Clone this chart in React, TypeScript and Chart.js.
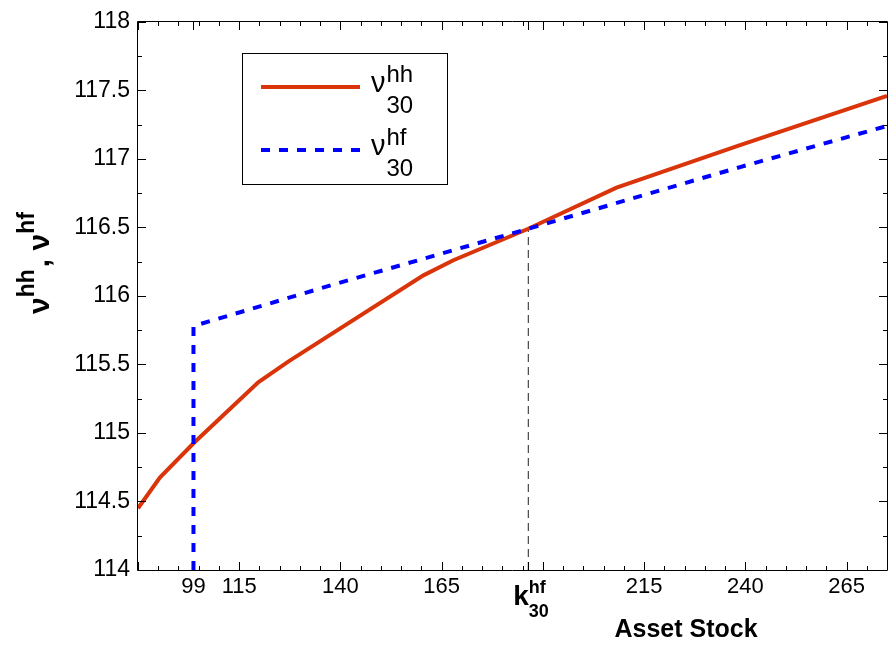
import React, { useEffect, useRef } from "react";
import { Chart, registerables } from "chart.js";

Chart.register(...registerables);

// ---- data ----
const hhX = [90, 95.4, 103.9, 119.7, 127.1, 160.5, 167.9, 186.4, 208.2, 238.7, 275];
const hhY = [114.45, 114.675, 114.93, 115.37, 115.52, 116.15, 116.26, 116.49, 116.79, 117.1, 117.46];

const hfX = [103.7, 103.7, 139.1, 186.4, 238.7, 275];
const hfY = [114, 115.78, 116.09, 116.49, 116.94, 117.24];

const kLineX = [186.4, 186.4];
const kLineY = [114, 116.49];

const xTickValues = [103.7, 115, 140, 165, 186.4, 215, 240, 265];
const xTickLabels = ["99", "115", "140", "165", "", "215", "240", "265"];
const K_TICK = 186.4;

const xMin = 90;
const xMax = 275;
const yMin = 114;
const yMax = 118;
const yStep = 0.5;

const FONT = "'Liberation Sans', Arial, Helvetica, sans-serif";
const RED = "rgb(218,52,10)";
const BLUE = "rgb(0,0,255)";

const toPts = (xs: number[], ys: number[]) => xs.map((x, i) => ({ x, y: ys[i] }));

const decorPlugin = {
  id: "decor",
  afterDraw(chart: any) {
    const ctx: CanvasRenderingContext2D = chart.ctx;
    const { left, right, top, bottom } = chart.chartArea;
    const xs = chart.scales.x;
    const ys = chart.scales.y;
    const L = Math.round(left);
    const R = Math.round(right);
    const T = Math.round(top);
    const B = Math.round(bottom);
    ctx.save();
    ctx.strokeStyle = "#000";
    ctx.lineWidth = 1;
    // box
    ctx.beginPath();
    ctx.moveTo(L - 0.5, T - 0.5);
    ctx.lineTo(R + 0.5, T - 0.5);
    ctx.lineTo(R + 0.5, B + 0.5);
    ctx.lineTo(L - 0.5, B + 0.5);
    ctx.closePath();
    ctx.stroke();
    // x ticks (inward, bottom & top)
    ctx.beginPath();
    const xTickAt = (v: number, len: number) => {
      const p = Math.round(xs.getPixelForValue(v)) + 0.5;
      ctx.moveTo(p, B);
      ctx.lineTo(p, B - len);
      ctx.moveTo(p, T);
      ctx.lineTo(p, T + len);
    };
    for (let v = xMin; v <= xMax + 1e-6; v += 5) {
      const major = Math.abs(((v - 115) % 25 + 25) % 25) < 1e-6;
      xTickAt(v, major ? 8 : 4);
    }
    xTickAt(xTickValues[0], 8);
    xTickAt(K_TICK, 8);
    // y ticks (inward, left & right)
    for (let v = yMin; v <= yMax + 1e-6; v += 0.25) {
      const major = Math.abs((v * 2) - Math.round(v * 2)) < 1e-6;
      const len = major ? 8 : 4;
      const p = Math.round(ys.getPixelForValue(v)) + 0.5;
      ctx.moveTo(L, p);
      ctx.lineTo(L + len, p);
      ctx.moveTo(R, p);
      ctx.lineTo(R - len, p);
    }
    ctx.stroke();

    // k_30^hf tick label
    ctx.fillStyle = "#000";
    ctx.textBaseline = "alphabetic";
    ctx.textAlign = "left";
    const kp = xs.getPixelForValue(K_TICK);
    ctx.font = `bold 28px ${FONT}`;
    const kx = kp - 15;
    ctx.fillText("k", kx, 605);
    const kw = ctx.measureText("k").width;
    ctx.font = `bold 18px ${FONT}`;
    ctx.fillText("hf", kx + kw, 593);
    ctx.fillText("30", kx + kw, 617);

    // x-axis title
    ctx.font = `bold 25px ${FONT}`;
    ctx.textAlign = "center";
    ctx.fillText("Asset Stock", 686, 637);

    // y-axis title (rotated)
    ctx.save();
    ctx.translate(49, 314);
    ctx.rotate(-Math.PI / 2);
    ctx.textAlign = "left";
    let cx = 0;
    ctx.font = `bold 30px ${FONT}`;
    ctx.fillText("\u03bd", cx, 0);
    cx += ctx.measureText("\u03bd").width;
    ctx.font = `bold 23px ${FONT}`;
    ctx.fillText("hh", cx, -15);
    cx += ctx.measureText("hh").width + 2;
    ctx.font = `bold 30px ${FONT}`;
    ctx.fillText(",", cx, 0);
    cx += ctx.measureText(", ").width;
    ctx.fillText("\u03bd", cx, 0);
    cx += ctx.measureText("\u03bd").width;
    ctx.font = `bold 23px ${FONT}`;
    ctx.fillText("hf", cx, -15);
    ctx.restore();

    // legend
    const bx = 242, by = 53, bw = 205, bh = 131;
    ctx.fillStyle = "#fff";
    ctx.fillRect(bx, by, bw, bh);
    ctx.strokeStyle = "#000";
    ctx.lineWidth = 1;
    ctx.strokeRect(bx + 0.5, by + 0.5, bw, bh);
    const entries = [
      { color: RED, dash: [] as number[], sup: "hh", y: 87 },
      { color: BLUE, dash: [9, 9], sup: "hf", y: 150 },
    ];
    for (const e of entries) {
      ctx.save();
      ctx.strokeStyle = e.color;
      ctx.lineWidth = 4;
      ctx.setLineDash(e.dash);
      ctx.beginPath();
      ctx.moveTo(261, e.y);
      ctx.lineTo(360, e.y);
      ctx.stroke();
      ctx.restore();
      ctx.fillStyle = "#000";
      ctx.textAlign = "left";
      ctx.font = `29px ${FONT}`;
      ctx.fillText("\u03bd", 371, e.y + 5);
      const nw = ctx.measureText("\u03bd").width;
      ctx.font = `24px ${FONT}`;
      ctx.fillText(e.sup, 371 + nw + 1, e.y - 5);
      ctx.fillText("30", 371 + nw + 1, e.y + 26);
    }
    ctx.restore();
  },
};

export default function App() {
  const canvasRef = useRef<HTMLCanvasElement | null>(null);

  useEffect(() => {
    if (!canvasRef.current) return;
    const chart = new Chart(canvasRef.current, {
      type: "line",
      data: {
        datasets: [
          {
            label: "hf",
            data: toPts(hfX, hfY),
            borderColor: BLUE,
            borderWidth: 4,
            borderDash: [9, 9],
            borderCapStyle: "butt",
            pointRadius: 0,
            tension: 0,
            fill: false,
            order: 0,
          },
          {
            label: "hh",
            data: toPts(hhX, hhY),
            borderColor: RED,
            borderWidth: 4,
            pointRadius: 0,
            tension: 0,
            fill: false,
            order: 1,
          },
          {
            label: "k",
            data: toPts(kLineX, kLineY),
            borderColor: "#222",
            borderWidth: 1,
            borderDash: [8, 5],
            pointRadius: 0,
            tension: 0,
            fill: false,
            order: 2,
          },
        ],
      },
      options: {
        animation: false,
        responsive: true,
        maintainAspectRatio: false,
        layout: { padding: { top: 13, right: 1, left: 0, bottom: 0 } },
        plugins: {
          legend: { display: false },
          tooltip: { enabled: false },
        },
        scales: {
          x: {
            type: "linear",
            min: xMin,
            max: xMax,
            grid: { display: false, drawTicks: false },
            border: { display: false },
            afterBuildTicks: (scale: any) => {
              scale.ticks = xTickValues.map((v) => ({ value: v }));
            },
            afterFit: (scale: any) => {
              scale.height = 78;
            },
            ticks: {
              autoSkip: false,
              maxRotation: 0,
              minRotation: 0,
              padding: 4,
              color: "#000",
              font: { family: FONT, size: 22 },
              callback: (value: any) => {
                const i = xTickValues.findIndex((v) => Math.abs(v - value) < 1e-6);
                return i >= 0 ? xTickLabels[i] : "";
              },
            },
          },
          y: {
            type: "linear",
            min: yMin,
            max: yMax,
            grid: { display: false, drawTicks: false },
            border: { display: false },
            afterFit: (scale: any) => {
              scale.width = 138;
            },
            ticks: {
              stepSize: yStep,
              padding: 8,
              color: "#000",
              font: { family: FONT, size: 23 },
              callback: (value: any) => String(Math.round(value * 10) / 10),
            },
          },
        },
      },
      plugins: [decorPlugin],
    } as any);
    return () => chart.destroy();
  }, []);

  return (
    <div style={{ position: "fixed", left: 0, top: 0, width: 888, height: 648, background: "#fff" }}>
      <canvas ref={canvasRef} style={{ display: "block" }} />
    </div>
  );
}
